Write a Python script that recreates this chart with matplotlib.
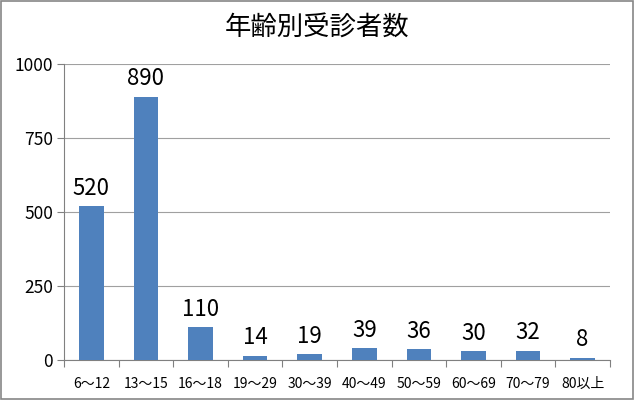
import matplotlib
matplotlib.use('Agg')
import matplotlib.pyplot as plt
import numpy as np

plt.rcParams['font.family'] = ['Noto Sans CJK JP', 'DejaVu Sans']

# データ
categories = ['6～12', '13～15', '16～18', '19～29', '30～39',
              '40～49', '50～59', '60～69', '70～79', '80以上']
counts = [520, 890, 110, 14, 19, 39, 36, 30, 32, 8]
title = '年齢別受診者数'

fig = plt.figure(figsize=(6.34, 4.0), dpi=100)
ax = fig.add_axes([0.101, 0.10, 0.861, 0.74])

x = np.arange(len(categories))
bars = ax.bar(x, counts, width=0.45, color='#4f81bd', zorder=3)

# 値ラベル
for xi, v in zip(x, counts):
    ax.text(xi, v + 22, str(v), ha='center', va='bottom', fontsize=16)

ax.set_xlim(-0.5, len(categories) - 0.5)
ax.set_ylim(0, 1000)
ax.set_yticks([0, 250, 500, 750, 1000])
ax.yaxis.grid(True, color='#a0a0a0', linewidth=0.8, zorder=0)

# x軸の目盛はカテゴリ境界に
ax.set_xticks(np.arange(-0.5, len(categories) + 0.5, 1.0))
ax.set_xticklabels([])
ax.set_xticks(x, minor=True)
ax.set_xticklabels(categories, minor=True, fontsize=10)
ax.tick_params(axis='x', which='minor', length=0, pad=12)
ax.tick_params(axis='x', which='major', length=5, color='#808080', direction='out')
ax.tick_params(axis='y', length=5, color='#808080', labelsize=12.5, pad=3)

for side in ['top', 'right']:
    ax.spines[side].set_visible(False)
ax.spines['left'].set_color('#808080')
ax.spines['bottom'].set_color('#808080')

fig.text(0.5, 0.93, title, ha='center', va='center', fontsize=19)

# 外枠
fig.patches.append(plt.Rectangle((0.002, 0.002), 0.996, 0.996, transform=fig.transFigure,
                                 fill=False, edgecolor='#868686', linewidth=1.2))

fig.savefig('out.png', dpi=100, facecolor='white')
